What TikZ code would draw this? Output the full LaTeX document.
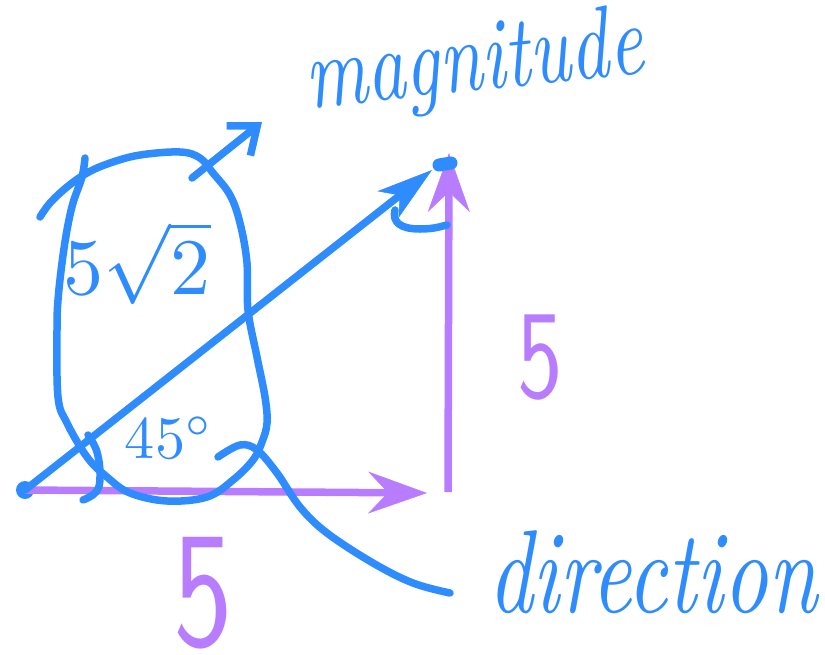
\documentclass[tikz,border=0pt]{standalone}
\usepackage{fontspec}
\usetikzlibrary{arrows.meta}
\newfontfamily\handit{lmroman10-italic.otf}[FakeStretch=0.74]
\newfontfamily\handsf{lmsans10-regular.otf}[FakeStretch=0.72]
\definecolor{pen}{RGB}{47,140,255}
\definecolor{vio}{RGB}{184,124,255}
\begin{document}
\begin{tikzpicture}[x=1pt,y=-1pt,
  bluepen/.style={draw=pen, line width=7.5pt, line cap=round, line join=round},
  violetpen/.style={draw=vio, line width=7.5pt},
  lbl/.style={inner sep=0pt, outer sep=0pt},
  bigtip/.style={-{Stealth[length=59pt,width=42pt,inset=20pt,line width=0.5pt]}}]
\useasboundingbox (0,0) rectangle (825,654);
% named points
\node[circle, fill=pen, minimum size=18pt, inner sep=0pt] (dot) at (25,490) {};
\coordinate (hend) at (427,493);
\coordinate (corner) at (448,492);
\coordinate (top) at (449,153);
\coordinate (hyp) at (432,170);
\coordinate (m1) at (192,178);
\coordinate (m2) at (262,122);
% purple legs
\draw[violetpen, bigtip] (dot.center) -- (hend);
\draw[violetpen, bigtip] (corner) -- (top);
% blue hypotenuse
\draw[bluepen, -{Stealth[length=56pt,width=34pt,inset=15pt,line width=0.5pt]}] (dot.center) -- (hyp);
\draw[pen, line width=13pt, line cap=round] (439,165) -- (451,163);
% angle at the top
\draw[bluepen] (395,210) .. controls (392,222) and (400,229) .. (420,229) .. controls (435,229) and (442,226) .. (447,225);
% angle at the origin
\draw[bluepen] plot[smooth, tension=0.7] coordinates {(88,435) (97,452) (100,477) (96,492) (83,500)};
% loop round the labels
\draw[bluepen] plot[smooth, tension=0.6] coordinates {(40,217) (50,203) (67,187) (87,173) (110,163) (140,155) (180,152) (200,158) (213,173) (230,195) (240,223) (247,263) (248,310) (257,357) (265,397) (267,423) (262,442) (253,460) (233,480) (207,497) (167,501) (130,493) (107,477) (87,457) (67,423) (58,397) (57,330) (58,300) (62,263) (67,230) (73,203) (82,177) (85,158)};
% arrow to magnitude
\draw[bluepen, -{Straight Barb[length=24pt,width=38pt]}] (m1) -- (m2);
% curve to direction
\draw[bluepen] plot[smooth, tension=0.6] coordinates {(218,457) (240,445) (257,450) (277,473) (300,507) (327,533) (373,563) (413,583) (450,593)};
% labels
\node[lbl, text=pen, rotate=6, anchor=base west] (mag) at (308,108) {\fontsize{102}{102}\handit magnitude};
\node[lbl, text=pen, anchor=base west] (dir) at (488,612) {\fontsize{118}{118}\handit direction};
\node[lbl, text=pen] (root) at (137,263) {\resizebox{147pt}{!}{$5\sqrt{2}$}};
\node[lbl, text=pen] (ang) at (169,438) {\resizebox{88pt}{!}{$45^{\circ}$}};
\node[lbl, text=vio, anchor=base] (fiveb) at (203,645) {\fontsize{165}{165}\handsf 5};
\node[lbl, text=vio, anchor=base] (fiver) at (540,397) {\fontsize{126}{126}\handsf 5};
\end{tikzpicture}
\end{document}
